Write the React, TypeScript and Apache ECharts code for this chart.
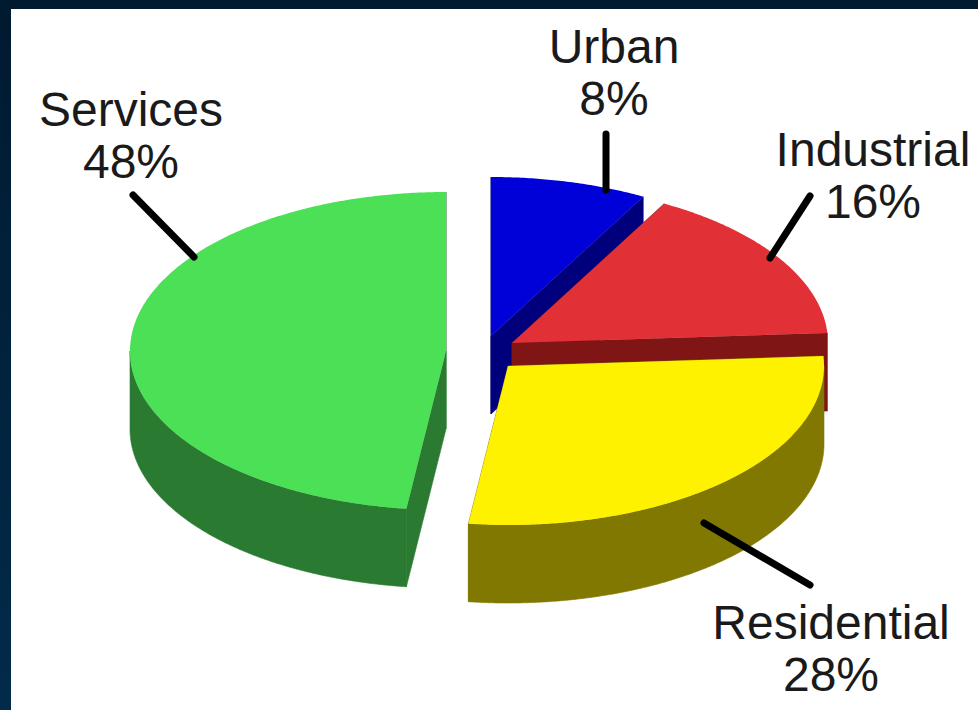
import React, { useEffect, useRef } from "react";
import * as echarts from "echarts";

// Shares of each sector, in percent
const categories = ["Urban", "Industrial", "Residential", "Services"];
const shares = [8, 16, 28, 48];

// Top-face and wall colours per sector
const topColors = ["#0000d8", "#e13036", "#fff200", "#4be056"];
const wallColors = ["#00007c", "#7f1515", "#807800", "#2a7a31"];

// Projection of the tilted disc
const RX = 316;
const RY = 159;
const DEPTH = 78;

// Where each exploded sector's apex sits on the page
const apexes = [
  [491, 336],
  [512, 343],
  [508, 366],
  [446, 351],
];

// Label centres and leader-line ends per sector
const labelCentres = [
  [614, 72],
  [873, 175],
  [831, 648],
  [131, 135],
];
const leaders = [
  [606, 134, 606, 190],
  [810, 196, 770, 258],
  [704, 523, 810, 585],
  [133, 195, 194, 257],
];

const WIDTH = 978;
const HEIGHT = 710;

function rim(cx: number, cy: number, theta: number, drop = 0): number[] {
  // theta runs clockwise from straight up, in degrees
  const r = (theta * Math.PI) / 180;
  return [cx + RX * Math.sin(r), cy - RY * Math.cos(r) + drop];
}

function arc(cx: number, cy: number, from: number, to: number, drop = 0): number[][] {
  const pts: number[][] = [];
  const steps = Math.max(1, Math.ceil((to - from) * 2));
  for (let i = 0; i <= steps; i++) {
    pts.push(rim(cx, cy, from + ((to - from) * i) / steps, drop));
  }
  return pts;
}

function renderSector(params: any, api: any) {
  const i = params.dataIndex;
  const start = (api.value(1) / 100) * 360;
  const end = ((api.value(1) + api.value(0)) / 100) * 360;
  const [cx, cy] = apexes[i];
  // A hairline in the fill colour closes the seams between wall pieces
  const wallStyle = { fill: wallColors[i], stroke: wallColors[i], lineWidth: 0.6 };
  const children: any[] = [];

  // Radial cut faces
  for (const t of [start, end]) {
    const p = rim(cx, cy, t);
    children.push({
      type: "polygon",
      shape: { points: [[cx, cy], p, [p[0], p[1] + DEPTH], [cx, cy + DEPTH]] },
      style: wallStyle,
    });
  }

  // Outer wall, only on the part of the rim facing the viewer
  const wallFrom = Math.max(start, 90);
  const wallTo = Math.min(end, 270);
  if (wallTo > wallFrom) {
    const upper = arc(cx, cy, wallFrom, wallTo);
    const lower = arc(cx, cy, wallFrom, wallTo, DEPTH).reverse();
    children.push({
      type: "polygon",
      shape: { points: upper.concat(lower) },
      style: wallStyle,
    });
  }

  // Top face
  children.push({
    type: "polygon",
    shape: { points: [[cx, cy] as number[]].concat(arc(cx, cy, start, end)) },
    style: { fill: topColors[i] },
  });

  // Leader line
  const [x1, y1, x2, y2] = leaders[i];
  children.push({
    type: "line",
    shape: { x1, y1, x2, y2 },
    style: { stroke: "#000000", lineWidth: 7, lineCap: "round" },
  });

  // Label: name above percentage
  const [lx, ly] = labelCentres[i];
  children.push({
    type: "text",
    style: {
      text: `${categories[i]}\n${api.value(0)}%`,
      x: lx,
      y: ly,
      fill: "#1a1a1a",
      font: '48px "Liberation Sans"',
      lineHeight: 52,
      textAlign: "center",
      textVerticalAlign: "middle",
    },
  });

  return { type: "group", children };
}

export default function App() {
  const ref = useRef<HTMLDivElement>(null);

  useEffect(() => {
    document.body.style.margin = "0";
    const chart = echarts.init(ref.current!, null, { renderer: "svg" });
    let running = 0;
    const rows = shares.map((s) => {
      const row = [s, running];
      running += s;
      return row;
    });
    chart.setOption({
      animation: false,
      backgroundColor: "#ffffff",
      // Dark frame along the top and left edges
      graphic: [
        {
          type: "rect",
          shape: { x: 0, y: 0, width: 11, height: HEIGHT },
          style: {
            fill: new echarts.graphic.LinearGradient(0, 0, 0, 1, [
              { offset: 0, color: "#001a30" },
              { offset: 1, color: "#022b4a" },
            ]),
          },
          silent: true,
        },
        {
          type: "rect",
          shape: { x: 0, y: 0, width: WIDTH, height: 9 },
          style: { fill: "#001a30" },
          silent: true,
        },
      ],
      series: [
        {
          type: "custom",
          coordinateSystem: "none",
          silent: true,
          renderItem: renderSector,
          encode: { value: [0, 1] },
          data: rows,
        },
      ],
    });
    return () => chart.dispose();
  }, []);

  return <div ref={ref} style={{ width: WIDTH, height: HEIGHT }} />;
}
